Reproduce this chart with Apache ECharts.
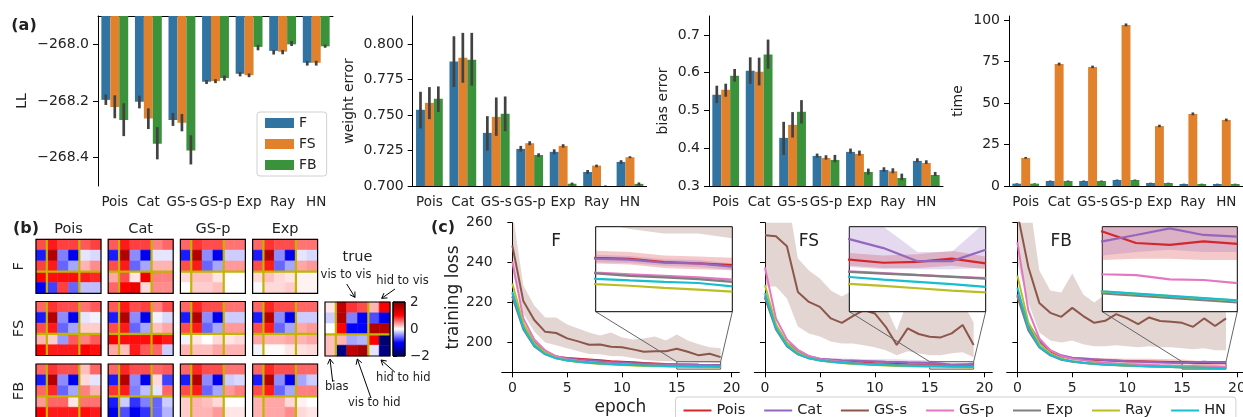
<!DOCTYPE html>
<html>
<head>
<meta charset="utf-8">
<script src="https://cdn.jsdelivr.net/npm/echarts@6.0.0/dist/echarts.min.js"></script>
<style>
  html, body { margin: 0; padding: 0; background: #fff; }
  #chart-container { width: 1243px; height: 417px; }
</style>
</head>
<body>
<div id="chart-container"></div>
<script>
var dom = document.getElementById('chart-container');
var myChart = echarts.init(dom, null, { renderer: 'canvas' });

const FONT = 'DejaVu Sans';
const INK = '#222';

// ---------- (a) bar panels ----------
const methods = ['Pois', 'Cat', 'GS-s', 'GS-p', 'Exp', 'Ray', 'HN'];
const variants = ['F', 'FS', 'FB'];
const barColors = ['#3274a1', '#e1812c', '#3a923a'];

const llF = [-268.196, -268.203, -268.267, -268.132, -268.104, -268.023, -268.065];
const llF_ci = [[-268.214, -268.177], [-268.226, -268.181], [-268.288, -268.242], [-268.140, -268.126], [-268.113, -268.097], [-268.036, -268.020], [-268.075, -268.059]];
const llFS = [-268.221, -268.262, -268.277, -268.130, -268.109, -268.026, -268.065];
const llFS_ci = [[-268.261, -268.180], [-268.299, -268.226], [-268.307, -268.246], [-268.137, -268.123], [-268.116, -268.103], [-268.035, -268.020], [-268.075, -268.058]];
const llFB = [-268.267, -268.351, -268.375, -268.119, -268.009, -268.000, -268.007];
const llFB_ci = [[-268.324, -268.208], [-268.406, -268.292], [-268.424, -268.321], [-268.128, -268.110], [-268.021, -268.002], [-268.006, -267.988], [-268.012, -268.001]];

const weF = [0.7538, 0.7878, 0.7375, 0.7262, 0.7241, 0.7099, 0.7170];
const weF_ci = [[0.7406, 0.7665], [0.7699, 0.8057], [0.7250, 0.7493], [0.7243, 0.7283], [0.7224, 0.7259], [0.7085, 0.7113], [0.7156, 0.7182]];
const weFS = [0.7587, 0.7906, 0.7488, 0.7302, 0.7283, 0.7144, 0.7203];
const weFS_ci = [[0.7472, 0.7698], [0.7729, 0.8081], [0.7354, 0.7625], [0.7288, 0.7316], [0.7271, 0.7295], [0.7132, 0.7151], [0.7196, 0.7210]];
const weFB = [0.7616, 0.7892, 0.7510, 0.7219, 0.7016, 0.6995, 0.7015];
const weFB_ci = [[0.7522, 0.7703], [0.7708, 0.8081], [0.7387, 0.7632], [0.7205, 0.7231], [0.7004, 0.7024], [0.6985, 0.7004], [0.7005, 0.7025]];

const beF = [0.5416, 0.6053, 0.4274, 0.3796, 0.3903, 0.3425, 0.3664];
const beF_ci = [[0.5195, 0.5655], [0.5708, 0.6406], [0.3823, 0.4699], [0.3752, 0.3858], [0.3858, 0.3991], [0.3372, 0.3496], [0.3628, 0.3734]];
const beFS = [0.5549, 0.6026, 0.4619, 0.3743, 0.3849, 0.3389, 0.3611];
const beFS_ci = [[0.5363, 0.5708], [0.5663, 0.6398], [0.4283, 0.4956], [0.3699, 0.3814], [0.3805, 0.3938], [0.3336, 0.3469], [0.3584, 0.3681]];
const beFB = [0.5920, 0.6478, 0.4964, 0.3690, 0.3372, 0.3212, 0.3292];
const beFB_ci = [[0.5761, 0.6098], [0.6106, 0.6876], [0.4654, 0.5274], [0.3628, 0.3823], [0.3301, 0.3460], [0.3151, 0.3327], [0.3265, 0.3372]];

const tF = [1.4, 3.0, 3.0, 3.6, 1.8, 1.2, 1.2];
const tF_ci = [[1.2, 1.6], [2.7, 3.3], [2.7, 3.3], [3.3, 3.9], [1.6, 2.0], [1.0, 1.4], [1.0, 1.4]];
const tFS = [16.9, 73.5, 71.7, 97.0, 36.1, 43.4, 39.8];
const tFS_ci = [[16.4, 17.5], [72.6, 74.3], [71.0, 72.5], [96.2, 97.9], [35.4, 36.9], [42.6, 44.3], [39.0, 40.6]];
const tFB = [1.4, 3.0, 3.0, 3.6, 1.8, 1.2, 1.2];
const tFB_ci = [[1.2, 1.6], [2.7, 3.3], [2.7, 3.3], [3.3, 3.9], [1.6, 2.0], [1.0, 1.4], [1.0, 1.4]];

const llTicks = [-268.4, -268.2, -268.0];
const weTicks = [0.7, 0.725, 0.75, 0.775, 0.8];
const beTicks = [0.3, 0.4, 0.5, 0.6, 0.7];
const tTicks = [0, 25, 50, 75, 100];

// ---------- (b) heatmaps: rows = units (3 vis + 2 hid), cols = bias | vis(3) | hid(2) ----------
const poisF = [[0.7, 0.9, 0.75, 0.75, 0.65, 0.75], [-0.9, 1.6, -0.5, -1.1, -0.1, -0.15], [0.75, 0.9, -0.6, -0.35, 0.3, 0.45], [1.0, 0.95, 0.95, 0.95, 0.9, 0.85], [-1.0, -0.75, 0.75, -0.6, -0.25, -0.25]];
const poisFS = [[0.6, 0.8, 0.7, 0.7, 0.55, 0.65], [-0.9, 1.6, -0.45, -1.1, -0.1, -0.05], [0.7, 0.9, -0.6, -0.35, 0.2, 0.2], [0.3, 0.2, -0.4, 0.65, 0.5, 0.65], [1.05, 0.9, 0.9, 0.9, 1.0, 0.95]];
const poisFB = [[0.6, 0.8, 0.7, 0.7, 0.25, 0.6], [-0.9, 1.6, -0.45, -1.1, 0.15, -0.1], [0.6, 0.85, -0.6, -0.35, 0.5, 0.3], [0.4, 0.6, 0.6, 0.1, 0.55, 0.55], [1.05, 0.9, 0.9, 0.9, 0.95, 0.9]];
const catF = [[0.65, 0.9, 0.75, 0.75, 0.5, 0.6], [-0.9, 1.6, -0.45, -1.1, -0.1, -0.1], [0.7, 0.9, -0.6, -0.35, 0.3, 0.3], [0.35, 0.7, 0.1, 1.1, 0.5, 0.5], [0.6, 1.0, 1.15, 0.15, 0.45, 0.45]];
const catFS = [[0.65, 0.9, 0.7, 0.75, 0.5, 0.7], [-0.9, 1.6, -0.45, -1.1, -0.05, -0.15], [0.7, 0.9, -0.6, -0.35, 0.25, 0.35], [1.05, 0.95, 0.95, 0.95, 1.0, 0.9], [0.35, 0.25, 0.9, 0.65, 0.6, -0.2]];
const catFB = [[0.6, 0.85, 0.7, 0.7, 0.6, 0.65], [-0.9, 1.6, -0.45, -1.1, 0.15, -0.75], [0.8, 0.9, -0.5, -0.25, -0.1, 0.6], [-0.9, -0.2, -0.8, -0.5, -0.6, -0.2], [-1.1, -0.7, -1.1, -0.8, -0.6, -0.3]];
const gspF = [[0.6, 0.8, 0.7, 0.7, 0.55, 0.55], [-0.9, 1.6, -0.45, -1.1, -0.2, -0.2], [0.7, 0.9, -0.6, -0.35, 0.4, 0.4], [0.15, 0.25, 0.25, 0.1, 0.0, 0.0], [0.0, 0.2, 0.2, 0.25, 0.0, 0.0]];
const gspFS = [[0.6, 0.85, 0.7, 0.7, 0.55, 0.55], [-0.9, 1.6, -0.45, -1.1, -0.2, -0.2], [0.7, 0.9, -0.6, -0.35, 0.4, 0.4], [-0.05, 0.1, 0.0, 0.15, 0.1, 0.15], [0.3, 0.25, 0.25, 0.35, 0.3, 0.3]];
const gspFB = [[0.6, 0.85, 0.7, 0.7, 0.55, 0.55], [-0.9, 1.6, -0.45, -1.1, -0.2, -0.15], [0.7, 0.9, -0.6, -0.35, 0.4, 0.5], [0.2, 0.3, 0.25, 0.15, 0.0, 0.0], [0.2, 0.3, 0.3, 0.4, 0.1, 0.1]];
const expF = [[0.6, 0.8, 0.7, 0.7, 0.55, 0.55], [-0.9, 1.6, -0.45, -1.1, -0.1, -0.15], [0.7, 0.9, -0.6, -0.35, 0.35, 0.4], [0.15, 0.25, 0.15, 0.1, 0.05, 0.05], [-0.03, 0.15, 0.15, 0.2, 0.05, 0.05]];
const expFS = [[0.6, 0.85, 0.7, 0.7, 0.6, 0.6], [-0.9, 1.6, -0.45, -1.1, -0.2, -0.2], [0.7, 0.9, -0.6, -0.35, 0.35, 0.4], [0.35, 0.3, 0.3, 0.35, 0.3, 0.35], [-0.05, 0.02, 0.02, 0.1, 0.12, 0.15]];
const expFB = [[0.6, 0.85, 0.7, 0.7, 0.6, 0.6], [-0.9, 1.6, -0.45, -1.1, -0.35, -0.2], [0.7, 0.9, -0.6, -0.35, 0.5, 0.5], [0.3, 0.35, 0.35, 0.15, 0.05, 0.0], [0.3, 0.35, 0.35, 0.45, 0.15, 0.1]];
const trueW = [[0.1, 1.5, 0.8, 0.7, 0.3, 1.0], [-0.2, 1.6, -0.5, -1.0, -0.7, -1.1], [0.0, 1.0, -1.0, -1.0, 1.6, 1.6], [0.25, 0.3, -0.35, -0.3, 1.0, -1.8], [0.25, -1.7, 1.5, 1.7, -0.1, -1.7]];
const heatCols = ['Pois', 'Cat', 'GS-p', 'Exp'];
const sepLines = [[1, 0, 1, 5, 0], [4, 0, 4, 5, 0], [0, 3, 6, 3, 0], [0, 0, 6, 5, 1]];
const cbarTicks = [-2, 0, 2];
const seismic = ['#00004d', '#0000ff', '#ffffff', '#ff0000', '#800000'];

// ---------- (c) training loss ----------
const epochs = [0, 1, 2, 3, 4, 5, 6, 7, 8, 9, 10, 11, 12, 13, 14, 15, 16, 17, 18, 19];
const lineColors = ['#d62728', '#9467bd', '#8c564b', '#e377c2', '#7f7f7f', '#bcbd22', '#17becf'];

const F_pois = [223.0, 208.5, 199.5, 195.0, 192.8, 192.2, 191.8, 191.4, 191.0, 190.6, 190.3, 190.0, 189.7, 189.4, 189.1, 188.94, 188.9, 188.76, 188.7, 188.63];
const F_cat = [224.5, 209.0, 200.0, 195.5, 193.0, 191.9, 191.4, 191.0, 190.6, 190.2, 189.9, 189.6, 189.4, 189.2, 189.0, 188.91, 188.87, 188.73, 188.7, 188.56];
const F_gss = [248.6, 220.8, 211.2, 205.3, 204.7, 202.0, 200.5, 198.8, 198.9, 197.8, 197.6, 196.5, 195.3, 195.5, 195.6, 196.8, 195.3, 193.5, 194.3, 192.6];
const F_gsp = [240.5, 212.0, 201.5, 196.0, 193.0, 191.6, 190.8, 190.2, 189.8, 189.4, 189.1, 188.9, 188.7, 188.5, 188.4, 188.3, 188.23, 188.16, 188.09, 188.0];
const F_exp = [222.8, 206.5, 198.0, 194.0, 192.0, 191.0, 190.4, 189.9, 189.5, 189.2, 188.95, 188.8, 188.6, 188.45, 188.35, 188.27, 188.16, 188.09, 188.02, 187.9];
const F_ray = [229.5, 209.5, 199.5, 194.8, 192.2, 190.9, 190.2, 189.6, 189.2, 188.9, 188.6, 188.4, 188.2, 188.0, 187.9, 187.8, 187.73, 187.64, 187.56, 187.47];
const F_hn = [225.3, 207.5, 198.5, 194.2, 192.0, 190.9, 190.3, 189.8, 189.4, 189.1, 188.8, 188.6, 188.45, 188.3, 188.15, 188.03, 187.96, 187.9, 187.85, 187.7];
const F_pois_lo = [221.5, 207.5, 198.8, 194.4, 192.3, 191.8, 191.4, 191.0, 190.6, 190.2, 189.9, 189.6, 189.3, 189.0, 188.8, 188.7, 188.65, 188.5, 188.45, 188.4];
const F_pois_hi = [224.5, 209.5, 200.2, 195.6, 193.3, 192.6, 192.2, 191.8, 191.4, 191.0, 190.7, 190.4, 190.1, 189.8, 189.4, 189.25, 189.2, 189.05, 189.0, 188.95];
const F_cat_lo = [223.5, 208.3, 199.5, 195.1, 192.7, 191.7, 191.2, 190.8, 190.4, 190.0, 189.7, 189.4, 189.2, 189.0, 188.8, 188.75, 188.72, 188.6, 188.55, 188.42];
const F_cat_hi = [225.5, 209.7, 200.5, 195.9, 193.3, 192.1, 191.6, 191.2, 190.8, 190.4, 190.1, 189.8, 189.6, 189.4, 189.2, 189.08, 189.02, 188.88, 188.85, 188.7];
const F_gss_lo = [236.0, 214.5, 205.5, 200.0, 198.5, 197.0, 195.5, 194.2, 194.0, 193.2, 193.0, 192.2, 191.3, 190.8, 190.6, 190.5, 190.2, 190.0, 190.0, 189.8];
const F_gss_hi = [266.0, 228.5, 218.5, 212.5, 212.5, 209.0, 207.0, 205.0, 203.5, 205.0, 202.5, 201.5, 202.0, 203.0, 201.0, 204.0, 201.0, 199.0, 197.5, 197.0];

const FS_pois = [222.5, 207.5, 199.0, 194.8, 192.5, 191.5, 191.0, 190.5, 190.2, 189.9, 189.6, 189.4, 189.2, 189.0, 188.9, 188.87, 188.73, 188.77, 188.91, 188.7];
const FS_cat = [223.5, 208.5, 199.8, 195.5, 193.0, 191.8, 191.4, 191.1, 190.9, 190.7, 190.5, 190.3, 190.2, 190.0, 189.9, 189.76, 189.37, 188.8, 188.8, 189.3];
const FS_gss = [253.7, 253.2, 248.2, 225.3, 220.3, 217.8, 212.0, 209.8, 213.2, 216.2, 214.5, 207.8, 198.7, 207.0, 204.2, 202.8, 202.5, 204.5, 208.7, 198.7];
const FS_gsp = [237.5, 212.0, 201.5, 196.3, 193.2, 191.7, 190.9, 190.3, 189.8, 189.4, 189.1, 188.9, 188.7, 188.6, 188.45, 188.36, 188.28, 188.2, 188.13, 188.06];
const FS_exp = [222.5, 206.5, 198.0, 194.0, 192.0, 191.0, 190.4, 189.9, 189.5, 189.2, 188.95, 188.8, 188.6, 188.5, 188.4, 188.33, 188.26, 188.19, 188.12, 188.04];
const FS_ray = [228.7, 209.0, 199.5, 194.8, 192.2, 190.9, 190.2, 189.6, 189.2, 188.9, 188.6, 188.4, 188.2, 188.0, 187.9, 187.81, 187.72, 187.62, 187.52, 187.44];
const FS_hn = [224.8, 207.3, 198.5, 194.2, 192.0, 190.9, 190.3, 189.8, 189.4, 189.1, 188.8, 188.6, 188.45, 188.3, 188.2, 188.11, 188.0, 187.9, 187.8, 187.68];
const FS_pois_lo = [221.5, 206.8, 198.5, 194.4, 192.1, 191.1, 190.6, 190.1, 189.8, 189.5, 189.2, 189.0, 188.8, 188.65, 188.6, 188.6, 188.5, 188.5, 188.6, 188.45];
const FS_pois_hi = [223.5, 208.2, 199.5, 195.2, 192.9, 191.9, 191.4, 190.9, 190.6, 190.3, 190.0, 189.8, 189.6, 189.4, 189.25, 189.15, 189.05, 189.1, 189.25, 189.0];
const FS_cat_lo = [222.0, 207.5, 199.0, 194.8, 192.4, 191.2, 190.7, 190.3, 190.0, 189.7, 189.4, 189.1, 188.9, 188.7, 188.6, 188.55, 188.45, 188.45, 188.45, 188.5];
const FS_cat_hi = [225.0, 209.5, 200.6, 196.2, 193.6, 192.4, 192.1, 191.9, 191.8, 191.7, 191.6, 191.5, 191.5, 191.3, 191.2, 191.0, 190.3, 189.2, 189.2, 190.5];
const FS_gss_lo = [228.0, 228.0, 222.0, 208.0, 204.5, 203.0, 200.5, 199.5, 199.5, 198.5, 197.5, 196.0, 193.5, 195.5, 194.5, 193.5, 193.5, 194.5, 195.0, 192.5];
const FS_gss_hi = [280.0, 280.0, 275.0, 242.0, 236.0, 232.0, 226.0, 223.0, 226.0, 230.0, 229.0, 218.0, 206.0, 221.0, 218.0, 216.0, 216.0, 218.0, 220.0, 210.0];

const FB_pois = [223.5, 208.5, 200.0, 195.5, 193.0, 192.0, 191.6, 191.3, 191.0, 190.8, 190.6, 190.5, 190.4, 190.3, 190.2, 190.09, 189.59, 189.51, 189.66, 189.55];
const FB_cat = [224.0, 209.5, 200.8, 196.0, 193.5, 192.3, 191.9, 191.5, 191.2, 190.9, 190.6, 190.4, 190.2, 190.0, 189.8, 189.66, 189.94, 190.23, 189.94, 189.87];
const FB_gss = [265.0, 237.8, 219.8, 214.8, 212.8, 217.3, 213.2, 209.8, 210.8, 214.2, 212.0, 209.2, 212.5, 210.7, 210.3, 209.8, 207.8, 212.0, 208.2, 212.0];
const FB_gsp = [250.3, 216.0, 202.0, 196.0, 193.2, 191.8, 191.0, 190.3, 189.8, 189.4, 189.1, 188.9, 188.7, 188.5, 188.35, 188.23, 188.19, 188.01, 187.98, 187.84];
const FB_exp = [223.0, 206.0, 197.5, 193.5, 191.3, 190.3, 189.7, 189.2, 188.8, 188.5, 188.3, 188.1, 187.95, 187.8, 187.6, 187.4, 187.3, 187.2, 187.1, 187.0];
const FB_ray = [233.6, 210.0, 199.5, 194.5, 191.8, 190.6, 189.9, 189.4, 189.0, 188.7, 188.4, 188.2, 188.0, 187.85, 187.65, 187.47, 187.38, 187.28, 187.18, 187.08];
const FB_hn = [227.5, 207.5, 198.0, 193.8, 191.5, 190.5, 189.8, 189.3, 188.9, 188.6, 188.35, 188.15, 188.0, 187.85, 187.65, 187.49, 187.39, 187.29, 187.19, 187.09];
const FB_pois_lo = [222.0, 207.3, 199.2, 194.8, 192.3, 191.3, 190.8, 190.4, 190.0, 189.7, 189.4, 189.2, 189.0, 188.9, 188.8, 188.85, 188.9, 188.9, 188.85, 188.85];
const FB_pois_hi = [225.0, 209.7, 200.8, 196.2, 193.7, 192.7, 192.4, 192.2, 192.0, 191.9, 191.8, 191.8, 191.8, 191.7, 191.6, 191.4, 190.9, 190.5, 190.5, 190.5];
const FB_cat_lo = [223.0, 208.7, 200.2, 195.5, 193.0, 191.8, 191.4, 191.0, 190.6, 190.2, 189.9, 189.7, 189.5, 189.3, 189.1, 189.05, 189.2, 189.3, 189.2, 189.2];
const FB_cat_hi = [225.0, 210.3, 201.4, 196.5, 194.0, 192.8, 192.4, 192.0, 191.8, 191.6, 191.3, 191.1, 190.9, 190.7, 190.5, 190.4, 190.6, 190.9, 190.7, 190.6];
const FB_gss_lo = [240.0, 220.0, 205.0, 201.0, 200.0, 201.0, 199.0, 198.0, 198.0, 198.5, 198.0, 197.5, 198.0, 197.5, 197.5, 197.0, 196.5, 197.0, 196.0, 196.0];
const FB_gss_hi = [290.0, 275.0, 236.0, 226.0, 225.0, 234.5, 224.0, 220.0, 224.0, 229.0, 226.0, 222.0, 226.0, 224.0, 224.0, 222.0, 220.0, 224.0, 219.0, 216.0];

const lossTicks = [200, 220, 240, 260];
const epochTicks = [0, 5, 10, 15, 20];
const insetX = [15, 19];
const insetY = [186.6, 190.3];

// ---------- build ----------
const grids = [], xAxes = [], yAxes = [], series = [], heatIdx = [];
function addGrid(g) { grids.push(Object.assign({ containLabel: false, outerBoundsMode: 'none' }, g)); return grids.length - 1; }
function addX(a) { xAxes.push(a); return xAxes.length - 1; }
function addY(a) { yAxes.push(a); return yAxes.length - 1; }
function fmt(d) { return function (v) { return Number(v).toFixed(d).replace('-', '\u2212'); }; }
const axisLineStyle = { show: true, lineStyle: { color: '#000', width: 1 } };
const tickStyle = { lineStyle: { color: '#000', width: 1 } };

function renderErr(params, api) {
  const c = api.value(0), s = api.value(3);
  const band = api.size([1, 0])[0];
  const off = (s - 1) * band * 0.8 / 3;
  const p1 = api.coord([c, api.value(1)]);
  const p2 = api.coord([c, api.value(2)]);
  return { type: 'line', shape: { x1: p1[0] + off, y1: p1[1], x2: p1[0] + off, y2: p2[1] },
    style: { stroke: '#424242', lineWidth: 2.7 } };
}

function barPanel(rect, means, cis, cfg) {
  const gi = addGrid({ left: rect[0], top: rect[1], width: rect[2], height: rect[3] });
  const xi = addX({ type: 'category', gridIndex: gi, data: methods,
    axisLine: { show: !cfg.noBottom, lineStyle: { color: '#000' } }, axisTick: { show: false },
    axisLabel: { interval: 0, margin: 9, color: INK, fontSize: 13.5, fontFamily: FONT } });
  if (cfg.topLine) {
    addX({ type: 'category', gridIndex: gi, position: 'top', data: methods, axisLine: axisLineStyle,
      axisTick: { show: false }, axisLabel: { show: false } });
  }
  const yi = addY({ type: 'value', gridIndex: gi, min: cfg.min, max: cfg.max, scale: true,
    axisLine: axisLineStyle, splitLine: { show: false },
    axisTick: Object.assign({ show: true, length: 5, customValues: cfg.ticks }, tickStyle),
    axisLabel: { customValues: cfg.ticks, formatter: fmt(cfg.dec), margin: 9, color: INK, fontSize: 14, fontFamily: FONT },
    name: cfg.name, nameLocation: 'middle', nameGap: cfg.nameGap,
    nameTextStyle: { color: INK, fontSize: 14, fontFamily: FONT } });
  const errRows = [];
  means.forEach(function (m, s) {
    series.push({ type: 'bar', name: variants[s], xAxisIndex: xi, yAxisIndex: yi, data: m,
      barGap: '0%', barCategoryGap: '20%', clip: true, silent: true, itemStyle: { color: barColors[s] } });
    cis[s].forEach(function (ci, c) { errRows.push([c, ci[0], ci[1], s]); });
  });
  series.push({ type: 'custom', xAxisIndex: xi, yAxisIndex: yi, data: errRows, renderItem: renderErr,
    clip: true, silent: true, z: 3 });
}

barPanel([98, 16, 235, 170], [llF, llFS, llFB], [llF_ci, llFS_ci, llFB_ci],
  { min: -268.5, max: -267.9, ticks: llTicks, dec: 1, name: 'LL', nameGap: 69, noBottom: true, topLine: true });
barPanel([412.7, 16, 234, 170], [weF, weFS, weFB], [weF_ci, weFS_ci, weFB_ci],
  { min: 0.7, max: 0.82, ticks: weTicks, dec: 3, name: 'weight error', nameGap: 56 });
barPanel([709, 16, 234, 170], [beF, beFS, beFB], [beF_ci, beFS_ci, beFB_ci],
  { min: 0.3, max: 0.75, ticks: beTicks, dec: 1, name: 'bias error', nameGap: 39 });
barPanel([1009, 16, 234, 170], [tF, tFS, tFB], [tF_ci, tFS_ci, tFB_ci],
  { min: 0, max: 102.4, ticks: tTicks, dec: 0, name: 'time', nameGap: 44 });

// heatmaps
function renderCell(params, api) {
  const p0 = api.coord([api.value(0), api.value(1)]);
  const p1 = api.coord([api.value(0) + 1, api.value(1) + 1]);
  const col = api.visual('color');
  return { type: 'rect', shape: { x: Math.min(p0[0], p1[0]), y: Math.min(p0[1], p1[1]),
    width: Math.abs(p1[0] - p0[0]), height: Math.abs(p1[1] - p0[1]) },
    style: { fill: col, stroke: col, lineWidth: 0.5 } };
}
function renderSep(params, api) {
  const p0 = api.coord([api.value(0), api.value(1)]);
  const p1 = api.coord([api.value(2), api.value(3)]);
  if (api.value(4) === 1) {
    return { type: 'rect', shape: { x: p0[0], y: p0[1], width: p1[0] - p0[0], height: p1[1] - p0[1] },
      style: { fill: null, stroke: '#000', lineWidth: 1.2 } };
  }
  return { type: 'line', shape: { x1: p0[0], y1: p0[1], x2: p1[0], y2: p1[1] },
    style: { stroke: '#c2b400', lineWidth: 2.2 } };
}
function heatPanel(left, top, mat, xName, xGap, yName) {
  const gi = addGrid({ left: left, top: top, width: 65, height: 54 });
  const xi = addX({ type: 'value', gridIndex: gi, min: 0, max: 6, position: 'top',
    axisLine: { show: false }, axisTick: { show: false }, axisLabel: { show: false }, splitLine: { show: false },
    name: xName || '', nameLocation: 'middle', nameGap: xGap,
    nameTextStyle: { color: INK, fontSize: 14.5, fontFamily: FONT } });
  const yi = addY({ type: 'value', gridIndex: gi, min: 0, max: 5, inverse: true,
    axisLine: { show: false }, axisTick: { show: false }, axisLabel: { show: false }, splitLine: { show: false },
    name: yName || '', nameLocation: 'middle', nameGap: 9, nameRotate: 90,
    nameTextStyle: { color: INK, fontSize: 14.5, fontFamily: FONT } });
  const cells = [];
  mat.forEach(function (row, r) { row.forEach(function (v, c) { cells.push([c, r, v]); }); });
  series.push({ type: 'custom', name: 'w', xAxisIndex: xi, yAxisIndex: yi, data: cells, renderItem: renderCell, silent: true });
  heatIdx.push(series.length - 1);
  series.push({ type: 'custom', name: 'sep', xAxisIndex: xi, yAxisIndex: yi, data: sepLines, renderItem: renderSep, silent: true, z: 3 });
  return gi;
}
const heatLefts = [36, 108.2, 180.4, 252.6];
const heatTops = [239.3, 301.5, 364];
const heatMats = [[poisF, catF, gspF, expF], [poisFS, catFS, gspFS, expFS], [poisFB, catFB, gspFB, expFB]];
heatMats.forEach(function (row, r) {
  row.forEach(function (m, c) {
    heatPanel(heatLefts[c], heatTops[r], m, r === 0 ? heatCols[c] : '', 3, c === 0 ? variants[r] : '');
  });
});
const trueGrid = heatPanel(325, 302, trueW, 'true', 37, '');

// colorbar
const cgi = addGrid({ left: 393, top: 302, width: 12, height: 54 });
const cxi = addX({ type: 'value', gridIndex: cgi, min: 0, max: 1, show: false });
const cyi = addY({ type: 'value', gridIndex: cgi, min: -2, max: 2, position: 'right',
  axisLine: { show: false }, splitLine: { show: false },
  axisTick: Object.assign({ show: true, length: 4, customValues: cbarTicks }, tickStyle),
  axisLabel: { customValues: cbarTicks, formatter: fmt(0), margin: 5, color: INK, fontSize: 13.5, fontFamily: FONT } });
series.push({ type: 'custom', xAxisIndex: cxi, yAxisIndex: cyi, data: [[0, -2, 1, 2]], silent: true,
  renderItem: function (params, api) {
    const p0 = api.coord([api.value(0), api.value(3)]);
    const p1 = api.coord([api.value(2), api.value(1)]);
    const stops = seismic.slice().reverse().map(function (c, i) { return { offset: i / 4, color: c }; });
    return { type: 'rect', shape: { x: p0[0], y: p0[1], width: p1[0] - p0[0], height: p1[1] - p0[1] },
      style: { fill: new echarts.graphic.LinearGradient(0, 0, 0, 1, stops), stroke: '#000', lineWidth: 1 } };
  } });

// (c) loss panels
function pairs(arr) { return epochs.map(function (e, i) { return [e, arr[i]]; }); }

// confidence band drawn as one polygon through the axes
function bandSeries(lo, hi, color, xa, ya, z) {
  return { type: 'custom', name: 'ci', xAxisIndex: xa, yAxisIndex: ya, z: z, clip: true, silent: true,
    data: [[epochs[0], lo[0], hi[0]]],
    renderItem: function (params, api) {
      const upper = epochs.map(function (e, i) { return api.coord([e, hi[i]]); });
      const lower = epochs.map(function (e, i) { return api.coord([e, lo[i]]); }).reverse();
      return { type: 'polygon', shape: { points: upper.concat(lower) },
        style: { fill: color, opacity: 0.25, stroke: null } };
    } };
}

function lossPanel(rect, inset, lines, bands, showLabels, withNames) {
  const gi = addGrid({ left: rect[0], top: rect[1], width: rect[2], height: rect[3] });
  const xi = addX({ type: 'value', gridIndex: gi, min: -0.97, max: 20.7, axisLine: axisLineStyle, splitLine: { show: false },
    axisTick: Object.assign({ show: true, length: 5, customValues: epochTicks }, tickStyle),
    axisLabel: { customValues: epochTicks, margin: 9, color: INK, fontSize: 14, fontFamily: FONT },
    name: withNames ? 'epoch' : '', nameLocation: 'middle', nameGap: 27,
    nameTextStyle: { color: INK, fontSize: 17, fontFamily: FONT } });
  const yi = addY({ type: 'value', gridIndex: gi, min: 185, max: 260, axisLine: axisLineStyle, splitLine: { show: false },
    axisTick: Object.assign({ show: true, length: 5, customValues: lossTicks }, tickStyle),
    axisLabel: { show: showLabels, customValues: lossTicks, margin: 9, color: INK, fontSize: 14, fontFamily: FONT },
    name: withNames ? 'training loss' : '', nameLocation: 'middle', nameGap: 40,
    nameTextStyle: { color: INK, fontSize: 17, fontFamily: FONT } });
  const ii = addGrid({ left: inset[0], top: inset[1], width: inset[2], height: inset[3], z: 5, show: true,
    backgroundColor: '#fff', borderColor: '#000', borderWidth: 1 });
  const ixi = addX({ type: 'value', gridIndex: ii, min: insetX[0], max: insetX[1], show: false });
  const iyi = addY({ type: 'value', gridIndex: ii, min: insetY[0], max: insetY[1], show: false });
  [[xi, yi, 2], [ixi, iyi, 6]].forEach(function (ax, which) {
    lines.forEach(function (arr, k) {
      const band = bands[k];
      if (band) series.push(bandSeries(band[0], band[1], lineColors[k], ax[0], ax[1], ax[2]));
      const s = { type: 'line', name: methods[k], xAxisIndex: ax[0], yAxisIndex: ax[1], z: ax[2],
        data: pairs(arr), symbol: 'none', silent: true, color: lineColors[k],
        lineStyle: { color: lineColors[k], width: which ? 2.2 : 2 } };
      if (which === 0 && k === 0) {
        s.markArea = { silent: true, itemStyle: { color: 'rgba(0,0,0,0)', borderColor: '#555', borderWidth: 1 },
          data: [[{ coord: [insetX[0], insetY[0]] }, { coord: [insetX[1], insetY[1]] }]] };
      }
      series.push(s);
    });
  });
  return [gi, ii];
}

const cF = lossPanel([501.7, 222.7, 237.6, 149.6], [595.7, 226.7, 136.6, 85],
  [F_pois, F_cat, F_gss, F_gsp, F_exp, F_ray, F_hn],
  { 0: [F_pois_lo, F_pois_hi], 1: [F_cat_lo, F_cat_hi], 2: [F_gss_lo, F_gss_hi] }, true, true);
const cFS = lossPanel([754.3, 222.7, 238, 149.6], [849.3, 226.7, 136.4, 85],
  [FS_pois, FS_cat, FS_gss, FS_gsp, FS_exp, FS_ray, FS_hn],
  { 0: [FS_pois_lo, FS_pois_hi], 1: [FS_cat_lo, FS_cat_hi], 2: [FS_gss_lo, FS_gss_hi] }, false, false);
const cFB = lossPanel([1006.7, 222.7, 238, 149.6], [1102.3, 226.7, 135, 85],
  [FB_pois, FB_cat, FB_gss, FB_gsp, FB_exp, FB_ray, FB_hn],
  { 0: [FB_pois_lo, FB_pois_hi], 1: [FB_cat_lo, FB_cat_hi], 2: [FB_gss_lo, FB_gss_hi] }, false, false);

var option = {
  animation: false,
  backgroundColor: '#fff',
  textStyle: { fontFamily: FONT },
  grid: grids,
  xAxis: xAxes,
  yAxis: yAxes,
  visualMap: [{ type: 'continuous', show: false, min: -2, max: 2, dimension: 2, seriesIndex: heatIdx,
    inRange: { color: seismic } }],
  legend: [
    { data: variants, orient: 'vertical', left: 257, top: 112, icon: 'rect', itemWidth: 29, itemHeight: 10,
      itemGap: 7, padding: [4, 10, 4, 8], backgroundColor: 'rgba(255,255,255,0.85)', borderColor: '#d0d0d0',
      borderWidth: 1, borderRadius: 3, selectedMode: false,
      textStyle: { color: INK, fontSize: 14, fontFamily: FONT } },
    { data: methods, orient: 'horizontal', left: 675.5, top: 397, width: 600, icon: 'rect', itemWidth: 28, itemHeight: 2,
      itemGap: 19, padding: [6, 10, 6, 8], backgroundColor: '#fff', borderColor: '#d0d0d0',
      borderWidth: 1, borderRadius: 3, selectedMode: false,
      textStyle: { color: INK, fontSize: 14.5, fontFamily: FONT } }
  ],
  series: series
};

myChart.setOption(option);

// annotations placed from the axes
function txt(text, x, y, size, bold) {
  return { type: 'text', x: x, y: y, z: 20, style: { text: text, fontSize: size, fontFamily: FONT,
    fontWeight: bold ? 'bold' : 'normal', fill: INK, align: 'center', verticalAlign: 'middle',
    textAlign: 'center', textVerticalAlign: 'middle' } };
}
function arrow(tail, tip) {
  const dx = tip[0] - tail[0], dy = tip[1] - tail[1];
  const len = Math.hypot(dx, dy), ux = dx / len, uy = dy / len;
  const bx = tip[0] - ux * 5, by = tip[1] - uy * 5;
  return [
    { type: 'line', z: 20, shape: { x1: tail[0], y1: tail[1], x2: tip[0], y2: tip[1] }, style: { stroke: '#000', lineWidth: 1 } },
    { type: 'polyline', z: 20, shape: { points: [[bx - uy * 3, by + ux * 3], tip, [bx + uy * 3, by - ux * 3]] },
      style: { stroke: '#000', lineWidth: 1, fill: null } }
  ];
}
const notes = [
  { text: 'vis to vis', tip: [2.77, -0.43], tail: [-8.3, -13.3], label: [-9, -22.3] },
  { text: 'hid to vis', tip: [5.23, -0.34], tail: [13.3, -9.3], label: [20.8, -17.3] },
  { text: 'bias', tip: [0.46, 5.28], tail: [2.7, 22.7], label: [6.7, 27.7] },
  { text: 'vis to hid', tip: [2.98, 5.28], tail: [13.7, 39], label: [17, 43.7] },
  { text: 'hid to hid', tip: [5.17, 5.37], tail: [14, 12.3], label: [22.3, 17.7] }
];
const graphics = [
  txt('(a)', 24, 26, 16, true),
  txt('(b)', 26, 229, 16, true),
  txt('(c)', 443, 228, 16, true)
];
notes.forEach(function (n) {
  const tip = myChart.convertToPixel({ gridIndex: trueGrid }, n.tip);
  const tail = [tip[0] + n.tail[0], tip[1] + n.tail[1]];
  arrow(tail, tip).forEach(function (g) { graphics.push(g); });
  graphics.push(txt(n.text, tip[0] + n.label[0], tip[1] + n.label[1], 11.5, false));
});
[[cF, 'F'], [cFS, 'FS'], [cFB, 'FB']].forEach(function (p) {
  const main = p[0][0], ins = p[0][1];
  const a1 = myChart.convertToPixel({ gridIndex: main }, [insetX[0], insetY[1]]);
  const a2 = myChart.convertToPixel({ gridIndex: main }, [insetX[1], insetY[1]]);
  const b1 = myChart.convertToPixel({ gridIndex: ins }, [insetX[0], insetY[0]]);
  const b2 = myChart.convertToPixel({ gridIndex: ins }, [insetX[1], insetY[0]]);
  graphics.push({ type: 'line', z: 4, shape: { x1: b1[0], y1: b1[1], x2: a1[0], y2: a1[1] }, style: { stroke: '#666', lineWidth: 1 } });
  graphics.push({ type: 'line', z: 4, shape: { x1: b2[0], y1: b2[1], x2: a2[0], y2: a2[1] }, style: { stroke: '#666', lineWidth: 1 } });
  const t = myChart.convertToPixel({ gridIndex: main }, [4, 250.5]);
  graphics.push(txt(p[1], t[0], t[1], 17, false));
});
myChart.setOption({ graphic: graphics });
window.addEventListener('resize', myChart.resize);
</script>
</body>
</html>
